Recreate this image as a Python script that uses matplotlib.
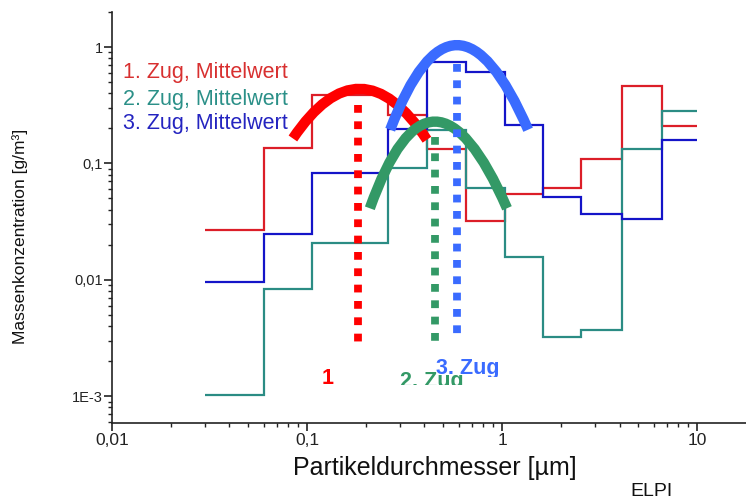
import numpy as np
import matplotlib
matplotlib.use("Agg")
import matplotlib.pyplot as plt
from matplotlib.path import Path
from matplotlib.patches import PathPatch
from matplotlib.transforms import Bbox, TransformedBbox

plt.rcParams['font.family'] = ['Liberation Sans', 'DejaVu Sans']

# ELPI stage boundaries (µm) and mean mass concentration per stage (g/m³)
edges = [0.03, 0.06, 0.106, 0.26, 0.41, 0.65, 1.03, 1.62, 2.55, 4.1, 6.6, 10.0]
zug1 = [0.027, 0.137, 0.39, 0.26, 0.132, 0.032, 0.055, 0.061, 0.11, 0.46, 0.21]
zug2 = [0.00102, 0.0084, 0.0207, 0.091, 0.195, 0.061, 0.0157, 0.0032, 0.0037, 0.134, 0.28]
zug3 = [0.0096, 0.025, 0.082, 0.199, 0.74, 0.61, 0.216, 0.052, 0.037, 0.033, 0.16]

# fitted humps: (x start, y start), (x peak, y peak), (x end, y end)
arc1 = [(0.0847, 0.164), (0.187, 0.438), (0.412, 0.160)]
arc2 = [(0.210, 0.0412), (0.453, 0.229), (1.06, 0.0412)]
arc3 = [(0.267, 0.195), (0.587, 1.04), (1.36, 0.195)]

# modal diameters: x, y bottom, y top
mode1 = (0.183, 0.00258, 0.319)
mode2 = (0.453, 0.00278, 0.170)
mode3 = (0.587, 0.00301, 0.716)

step_colors = ['#DC1E28', '#2B8C84', '#1414C8']
text_colors = ['#D83030', '#2B9088', '#2424C0']
hump_colors = ['#FF0000', '#339966', '#3A6BFF']
legend_labels = ['1. Zug, Mittelwert', '2. Zug, Mittelwert', '3. Zug, Mittelwert']

fig = plt.figure(figsize=(7.46, 5.03), dpi=100)
ax = fig.add_axes([0.150, 0.159, 0.850, 0.817])
ax.set_xscale('log')
ax.set_yscale('log')
ax.set_xlim(0.01, 17.8)
ax.set_ylim(5.88e-4, 2.0)

for vals, c in zip([zug1, zug2, zug3], step_colors):
    ax.stairs(vals, edges, baseline=None, color=c, lw=1.6, zorder=2)


def hump(points, color):
    (x0, y0), (xp, yp), (x2, y2) = np.log10(points)
    # quadratic bezier whose midpoint is the peak (in log space)
    cx = 2 * xp - 0.5 * (x0 + x2)
    cy = 2 * yp - 0.5 * (y0 + y2)
    verts = 10 ** np.array([[x0, y0], [cx, cy], [x2, y2]])
    path = Path(verts, [Path.MOVETO, Path.CURVE3, Path.CURVE3])
    patch = PathPatch(path, fill=False, edgecolor=color, lw=7.5,
                      capstyle='butt', transform=ax.transData, zorder=4)
    ax.add_patch(patch)


for pts, c in zip([arc1, arc2, arc3], hump_colors):
    hump(pts, c)

for (x, y0, y1), c in zip([mode1, mode2, mode3], hump_colors):
    ax.plot([x, x], [y1, y0], color=c, lw=5.6, ls=(0, (1, 1.1)),
            dash_capstyle='butt', zorder=5)

# legend text
for i, (lab, c) in enumerate(zip(legend_labels, text_colors)):
    ax.text(0.0174, [0.854, 0.788, 0.729][i], lab, color=c, fontsize=15.5,
            transform=ax.transAxes, ha='left', va='center', zorder=3)

# run labels, cut off at the bottom
run_text = ['1', '2. Zug', '3. Zug']
run_x = [0.119, 0.300, 0.459]
run_y = [0.00127, 0.00119, 0.00154]
cut_px = [385, 385, 377]
for s, x, y, cut, c in zip(run_text, run_x, run_y, cut_px, hump_colors):
    t = ax.text(x, y, s, color=c, fontsize=15.5, fontweight='bold',
                ha='left', va='baseline', zorder=6, clip_on=True)
    t.set_clip_box(TransformedBbox(Bbox([[0, (503 - cut) / 503], [1, 1]]),
                                   fig.transFigure))

# axes styling
for side in ['top', 'right']:
    ax.spines[side].set_visible(False)
for side in ['left', 'bottom']:
    ax.spines[side].set_color('#222222')
    ax.spines[side].set_linewidth(1.2)

ax.set_xticks([0.01, 0.1, 1, 10], ['0,01', '0,1', '1', '10'])
ax.set_yticks([0.001, 0.01, 0.1, 1], ['1E-3', '0,01', '0,1', '1'])
ax.tick_params(axis='both', which='major', length=5.5, width=1.2, color='#222222')
ax.tick_params(axis='both', which='minor', length=3, width=1.0, color='#222222')
ax.tick_params(axis='x', which='major', labelsize=12.5, pad=1.5, labelcolor='#222222')
ax.tick_params(axis='y', which='major', labelsize=10.5, pad=1, labelcolor='#222222')
ax.xaxis.set_minor_formatter(matplotlib.ticker.NullFormatter())
ax.yaxis.set_minor_formatter(matplotlib.ticker.NullFormatter())
ax.patch.set_visible(False)

fig.text(435 / 746, 1 - 468 / 503, 'Partikeldurchmesser [µm]', fontsize=18,
         ha='center', va='center', color='#111111')
fig.text(20 / 746, 1 - 236 / 503, 'Massenkonzentration [g/m³]', fontsize=12.5,
         rotation=90, ha='center', va='center', color='#111111')
fig.text(651 / 746, 1 - 491 / 503, 'ELPI', fontsize=14, ha='center',
         va='center', color='#111111')

fig.savefig('out.png', dpi=100)
